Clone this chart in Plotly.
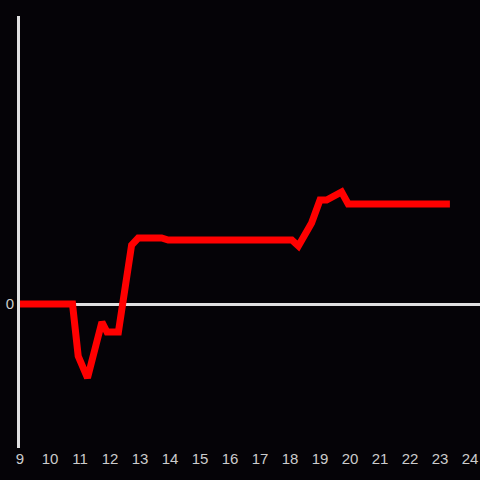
import plotly.graph_objects as go

# data
hours = [9.0, 10.75, 10.94, 11.25, 11.73, 11.9, 12.28, 12.72, 12.94, 13.72, 13.94,
         18.06, 18.28, 18.72, 19.0, 19.22, 19.72, 19.94, 23.33]
values = [0, 0, -52, -74, -18, -28, -28, 59, 66, 66, 64,
          64, 58, 81, 104, 104, 112, 100, 100]
x_ticks = list(range(9, 25))
y_ticks = [0]
y_tick_text = ["0"]

fig = go.Figure(go.Scatter(x=hours, y=values, mode="lines",
                           line=dict(color="#ff0000", width=7),
                           hoverinfo="skip"))

fig.update_layout(
    width=480, height=480,
    margin=dict(l=20, r=0, t=16, b=32),
    paper_bgcolor="#050307", plot_bgcolor="#050307",
    showlegend=False,
    font=dict(family="Liberation Sans, Arial, sans-serif", size=15, color="#cccccc"),
    xaxis=dict(range=[9, 9 + 460 / 30], tickvals=x_ticks, ticktext=[str(t) for t in x_ticks],
               showgrid=False, zeroline=False, showline=False, ticks=""),
    yaxis=dict(range=[-144, 288], tickvals=y_ticks, ticktext=y_tick_text,
               showgrid=False, zeroline=True, zerolinecolor="#e0e0e0", zerolinewidth=3,
               showline=True, linecolor="#e0e0e0", linewidth=3, ticks=""),
)

fig.write_html("out.html", config={"displayModeBar": False},
               post_script="document.body.style.margin='0';document.body.style.overflow='hidden';")
